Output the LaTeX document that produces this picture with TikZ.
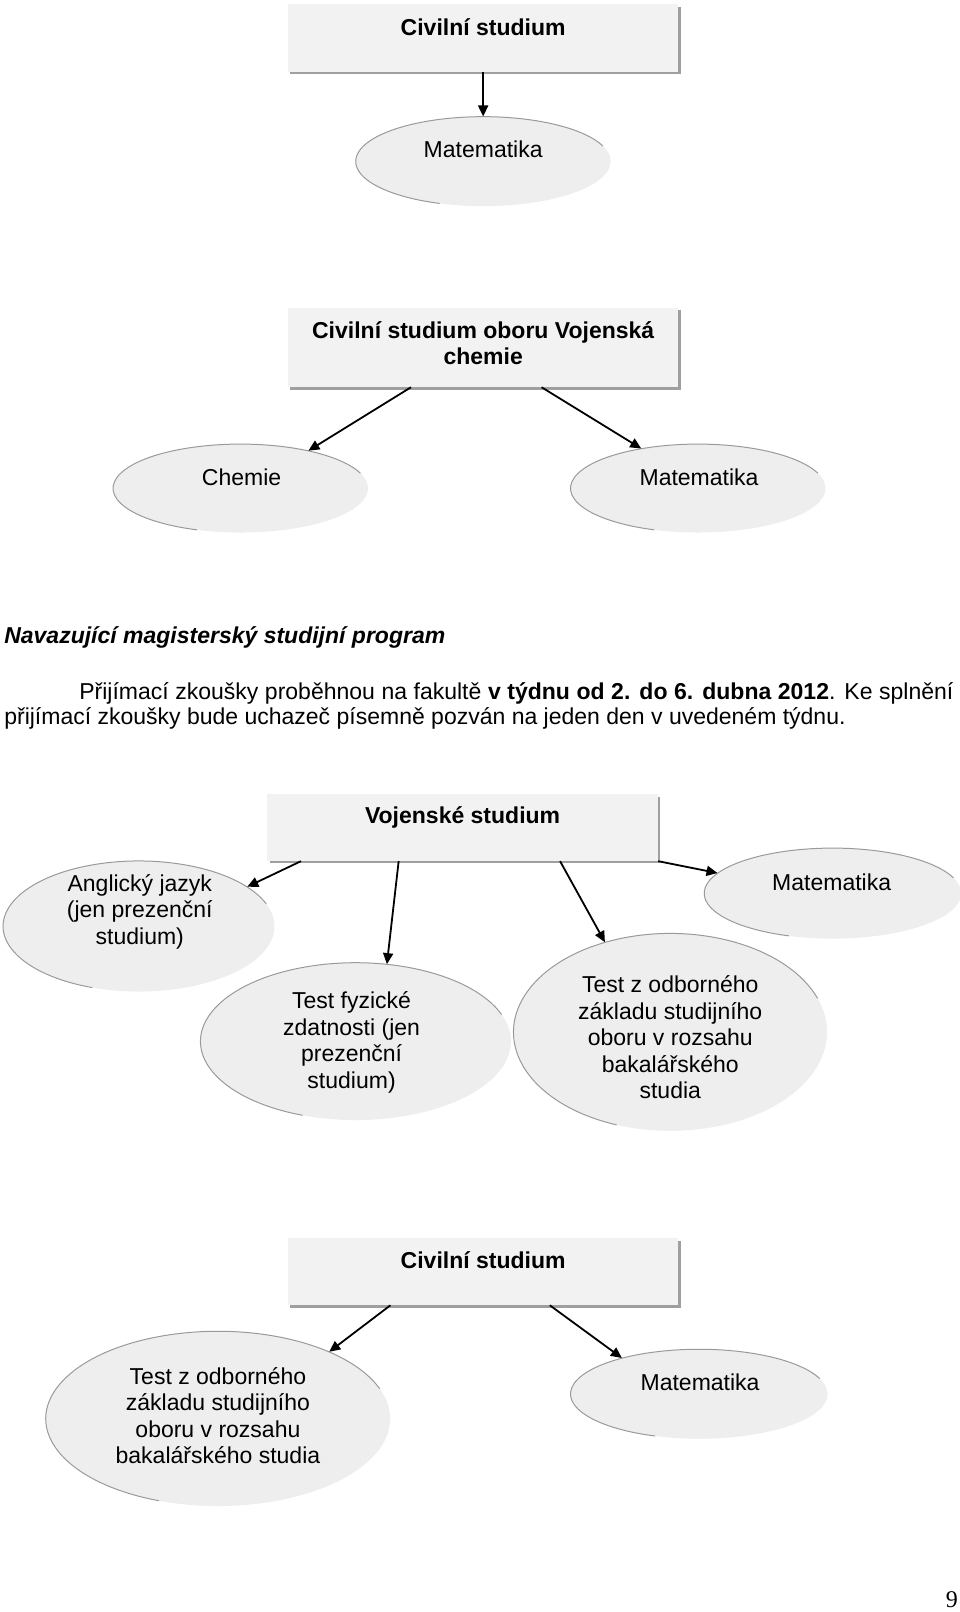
\documentclass[tikz,border=0pt]{standalone}
\usepackage{fontspec}
\setmainfont{Liberation Sans}
\newfontfamily\pagefont{Liberation Serif}
\usetikzlibrary{arrows.meta,shadows,calc,shapes.geometric}
\definecolor{boxfill}{HTML}{F2F2F2}
\definecolor{ellfill}{HTML}{EEEEEE}
\definecolor{ellrim}{HTML}{9A9A9A}
\newcommand\Ksc{1.028}
\newcommand\fsz{\fontsize{23pt}{26.5pt}\selectfont}
\newcommand\ellrimarc[3]{\draw[rimline] ($(#1.center)+({#2*cos(20)},{-#3*sin(20)})$) arc[start angle=-20,end angle=-250,x radius=#2,y radius=#3];}
\tikzset{
  sz/.style 2 args={minimum width=#1*\Ksc pt, minimum height=#2*\Ksc pt},
  boxnode/.style={fill=boxfill, inner sep=0pt,
    drop shadow={shadow xshift=2.5pt, shadow yshift=-2.5pt, fill=gray!75, opacity=1}},
  ellnode/.style={ellipse, fill=ellfill, inner sep=0pt},
  rimline/.style={draw=ellrim, line width=1pt},
  lbl/.style={align=center, inner sep=0pt, font=\fsz},
  blbl/.style={align=center, inner sep=0pt, font=\fsz\bfseries},
  arr/.style={-{Triangle[length=11pt,width=10pt]}, line width=1.8pt, black},
}
\begin{document}
\begin{tikzpicture}[x=\Ksc pt,y=-\Ksc pt]
\path[use as bounding box, fill=white] (0,0) rectangle ({960/\Ksc},{1612/\Ksc});

% ---------- block 1
\node[boxnode, sz={380}{66}] (b1) at (470,37) {};
\node[blbl] (b1t) at (470,26) {Civilní studium};
\node[ellnode, sz={248}{87}] (m1) at (470,157) {};
\ellrimarc{m1}{124}{43.5}
\node[lbl] (m1t) at (470,145) {Matematika};
\draw[arr] (b1.south) -- (m1.north);

% ---------- block 2
\node[boxnode, sz={380}{77}] (b2) at (470,338) {};
\node[blbl] (b2t) at (470,334) {Civilní studium oboru Vojenská\\chemie};
\node[ellnode, sz={248}{86}] (ch) at (234,475) {};
\ellrimarc{ch}{124}{43}
\node[lbl] (cht) at (235,464) {Chemie};
\node[ellnode, sz={248}{86}] (m2) at (679,475) {};
\ellrimarc{m2}{124}{43}
\node[lbl] (m2t) at (680,464) {Matematika};
\draw[arr] ($(b2.south west)+(120,0)$) -- (ch.29);
\draw[arr] ($(b2.south west)+(247,0)$) -- (m2.145);

% ---------- text
\node[anchor=base west, inner sep=0pt, font=\fsz\bfseries\itshape] (hd) at (4,625.5) {Navazující magisterský studijní program};
\node[anchor=base west, inner sep=0pt, font=\fsz] (p1) at (77,680) {\makebox[874pt][s]{Přijímací zkoušky proběhnou na fakultě \textbf{v týdnu od 2. do 6. dubna 2012}. Ke splnění}};
\node[anchor=base west, inner sep=0pt, font=\fsz] (p2) at (4,705) {přijímací zkoušky bude uchazeč písemně pozván na jeden den v uvedeném týdnu.};

% ---------- block 3
\node[boxnode, sz={380}{65}] (b3) at (450,805) {};
\node[blbl] (b3t) at (450,795) {Vojenské studium};
\node[ellnode, sz={264}{127}] (an) at (135,901) {};
\ellrimarc{an}{132}{63.5}
\node[lbl] (ant) at (136,887) {Anglický jazyk\\(jen prezenční\\studium)};
\node[ellnode, sz={250}{88}] (m3) at (810,869) {};
\ellrimarc{m3}{125}{44}
\node[lbl] (m3t) at (809,858) {Matematika};
\node[ellnode, sz={302}{153}] (tf) at (346,1013) {};
\ellrimarc{tf}{151}{76.5}
\node[lbl] (tft) at (342,1014) {Test fyzické\\zdatnosti (jen\\prezenční\\studium)};
\node[ellnode, sz={305}{192}] (to) at (652,1004) {};
\ellrimarc{to}{152.5}{96}
\node[lbl] (tot) at (652,1009) {Test z odborného\\základu studijního\\oboru v rozsahu\\bakalářského\\studia};
\draw[arr] ($(b3.south west)+(33,0)$) -- (an.20);
\draw[arr] ($(b3.south west)+(128,0)$) -- (tf.68);
\draw[arr] ($(b3.south west)+(285,0)$) -- (to.126);
\draw[arr] (b3.south east) -- (m3.170);

% ---------- block 4
\node[boxnode, sz={380}{65}] (b4) at (470,1237) {};
\node[blbl] (b4t) at (470,1226) {Civilní studium};
\node[ellnode, sz={335}{170}] (tb) at (212,1380) {};
\ellrimarc{tb}{167.5}{85}
\node[lbl] (tbt) at (212,1377) {Test z odborného\\základu studijního\\oboru v rozsahu\\bakalářského studia};
\node[ellnode, sz={250}{87}] (m4) at (680,1356) {};
\ellrimarc{m4}{125}{43.5}
\node[lbl] (m4t) at (681,1345) {Matematika};
\draw[arr] ($(b4.south west)+(100,0)$) -- (tb.31);
\draw[arr] ($(b4.south west)+(255,0)$) -- (m4.155);

% ---------- page number
\node[anchor=base east, inner sep=0pt, font=\pagefont\fontsize{24pt}{26pt}\selectfont] (pg) at (932,1564) {9};
\end{tikzpicture}
\end{document}
